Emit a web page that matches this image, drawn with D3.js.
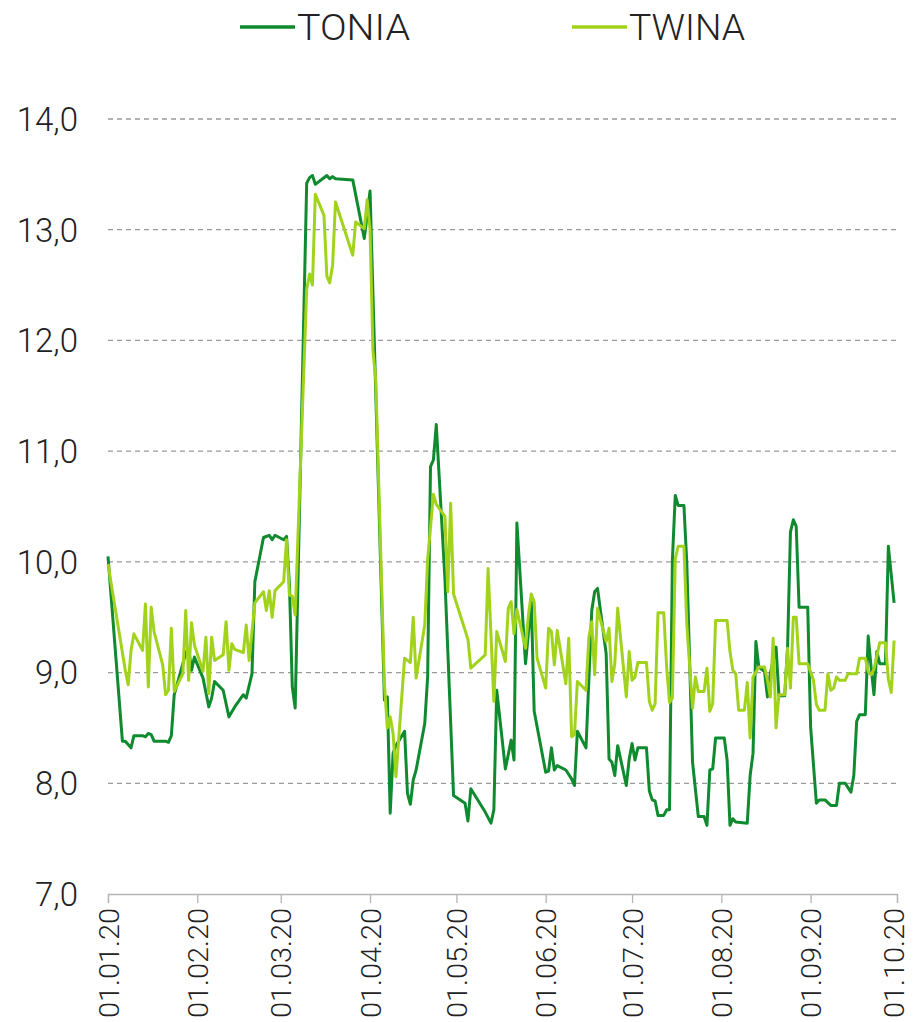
<!DOCTYPE html>
<html>
<head>
<meta charset="utf-8">
<script src="https://cdn.jsdelivr.net/npm/d3@7"></script>
<style>
  html, body { margin: 0; padding: 0; background: #fff; }
  svg { display: block; }
  text { font-family: Roboto, "Open Sans", sans-serif; font-weight: 300; fill: #222; }
</style>
</head>
<body>
<svg id="chart" width="913" height="1022"></svg>
<script>
// Overnight rate series, 2020 (percent)
const tonia = [
  ["01-01",10.05],["01-06",8.38],["01-07",8.38],["01-09",8.32],["01-10",8.43],["01-13",8.43],
  ["01-14",8.42],["01-15",8.45],["01-16",8.44],["01-17",8.38],["01-21",8.38],["01-22",8.37],
  ["01-23",8.43],["01-24",8.80],["01-27",9.08],["01-28",9.18],["01-29",9.22],["01-30",9.02],
  ["01-31",9.14],["02-03",8.95],["02-05",8.69],["02-06",8.77],["02-07",8.92],["02-10",8.84],
  ["02-12",8.60],["02-14",8.69],["02-17",8.80],["02-18",8.77],["02-20",8.99],["02-21",9.82],
  ["02-24",10.22],["02-26",10.24],["02-27",10.20],["02-28",10.24],["03-02",10.20],["03-03",10.23],
  ["03-04",9.80],["03-05",8.87],["03-06",8.68],["03-10",13.42],["03-11",13.47],["03-12",13.49],
  ["03-13",13.41],["03-17",13.49],["03-18",13.46],["03-19",13.48],["03-20",13.46],["03-26",13.45],
  ["03-30",12.92],["04-01",13.35],["04-06",8.75],["04-07",8.78],["04-08",7.73],["04-09",8.27],
  ["04-10",8.34],["04-13",8.47],["04-14",7.91],["04-15",7.81],["04-16",8.03],["04-17",8.12],
  ["04-20",8.54],["04-21",8.96],["04-22",10.86],["04-23",10.92],["04-24",11.24],["04-27",9.85],
  ["04-28",9.20],["04-29",8.55],["04-30",7.89],["05-04",7.82],["05-05",7.66],["05-06",7.95],
  ["05-11",7.74],["05-13",7.64],["05-14",7.76],["05-15",8.84],["05-18",8.13],["05-20",8.39],
  ["05-21",8.21],["05-22",10.35],["05-25",9.08],["05-27",9.64],["05-28",8.65],["06-01",8.10],
  ["06-02",8.11],["06-03",8.32],["06-04",8.12],["06-05",8.16],["06-08",8.12],["06-10",8.04],
  ["06-11",7.98],["06-12",8.47],["06-15",8.32],["06-17",9.56],["06-18",9.73],["06-19",9.76],
  ["06-22",9.17],["06-23",8.22],["06-24",8.19],["06-25",8.07],["06-26",8.34],["06-29",7.98],
  ["06-30",8.22],["07-01",8.36],["07-02",8.21],["07-03",8.32],["07-06",8.32],["07-07",7.93],
  ["07-08",7.85],["07-09",7.84],["07-10",7.71],["07-12",7.71],["07-13",7.76],["07-14",7.76],
  ["07-15",10.02],["07-16",10.60],["07-17",10.51],["07-19",10.51],["07-20",9.99],["07-22",8.19],
  ["07-24",7.70],["07-26",7.70],["07-27",7.62],["07-28",8.12],["07-29",8.13],["07-30",8.41],
  ["08-02",8.41],["08-03",8.21],["08-04",7.62],["08-05",7.68],["08-06",7.65],["08-10",7.64],
  ["08-11",8.07],["08-12",8.27],["08-13",9.28],["08-14",9.05],["08-16",9.01],["08-17",8.78],
  ["08-18",8.99],["08-20",9.23],["08-21",8.79],["08-23",8.79],["08-24",9.23],["08-25",10.27],
  ["08-26",10.38],["08-27",10.32],["08-28",9.59],["08-31",9.59],["09-01",8.51],["09-03",7.82],
  ["09-04",7.85],["09-06",7.85],["09-08",7.80],["09-10",7.80],["09-11",8.00],["09-13",8.00],
  ["09-15",7.92],["09-16",8.07],["09-17",8.56],["09-18",8.62],["09-20",8.62],["09-21",9.33],
  ["09-22",9.05],["09-23",8.80],["09-24",9.19],["09-25",9.08],["09-27",9.08],["09-28",10.14],
  ["09-30",9.63]
];

const twina = [
  ["01-01",9.98],["01-07",9.02],["01-08",8.89],["01-09",9.20],["01-10",9.35],["01-13",9.20],
  ["01-14",9.62],["01-15",8.87],["01-16",9.59],["01-17",9.37],["01-20",9.07],["01-21",8.80],
  ["01-22",8.84],["01-23",9.40],["01-24",8.83],["01-27",8.99],["01-28",9.56],["01-29",8.93],
  ["01-30",9.45],["01-31",9.25],["02-03",9.01],["02-04",9.32],["02-05",8.81],["02-06",9.32],
  ["02-07",9.11],["02-10",9.16],["02-11",9.46],["02-12",9.02],["02-13",9.26],["02-14",9.21],
  ["02-17",9.18],["02-18",9.43],["02-19",9.11],["02-21",9.63],["02-24",9.73],["02-25",9.56],
  ["02-26",9.74],["02-27",9.50],["02-28",9.74],["03-02",9.82],["03-03",10.20],["03-04",9.70],
  ["03-05",9.69],["03-06",9.52],["03-10",12.46],["03-11",12.60],["03-12",12.50],["03-13",13.32],
  ["03-16",13.13],["03-17",12.58],["03-18",12.52],["03-19",12.68],["03-20",13.25],["03-26",12.77],
  ["03-27",13.07],["03-30",13.01],["03-31",13.27],["04-01",13.00],["04-02",11.91],["04-03",11.64],
  ["04-06",8.90],["04-07",8.50],["04-08",8.60],["04-09",8.45],["04-10",8.06],["04-13",9.13],
  ["04-15",9.09],["04-16",9.50],["04-17",8.95],["04-20",9.43],["04-21",10.02],["04-23",10.61],
  ["04-24",10.52],["04-27",10.41],["04-28",9.73],["04-29",10.53],["04-30",9.71],["05-05",9.30],
  ["05-06",9.04],["05-11",9.16],["05-12",9.94],["05-14",8.74],["05-15",9.37],["05-18",9.10],
  ["05-19",9.58],["05-20",9.64],["05-21",9.35],["05-22",9.57],["05-25",9.22],["05-26",9.52],
  ["05-27",9.71],["05-28",9.64],["05-29",9.13],["06-01",8.86],["06-02",9.40],["06-03",9.37],
  ["06-04",9.07],["06-05",9.38],["06-08",8.90],["06-09",9.31],["06-10",8.42],["06-11",8.44],
  ["06-12",8.92],["06-15",8.84],["06-16",9.32],["06-17",9.46],["06-18",8.98],["06-19",9.58],
  ["06-22",9.28],["06-23",9.40],["06-24",8.92],["06-25",9.08],["06-26",9.58],["06-29",8.78],
  ["06-30",9.19],["07-01",8.93],["07-02",8.96],["07-03",9.09],["07-06",9.09],["07-07",8.74],
  ["07-08",8.66],["07-09",8.72],["07-10",9.54],["07-12",9.54],["07-13",9.05],["07-14",8.73],
  ["07-15",8.77],["07-16",10.03],["07-17",10.14],["07-19",10.14],["07-20",9.44],["07-22",8.68],
  ["07-23",8.96],["07-24",8.83],["07-26",8.83],["07-27",9.04],["07-28",8.65],["07-29",8.72],
  ["07-30",9.47],["08-03",9.47],["08-04",9.19],["08-05",9.02],["08-06",8.99],["08-07",8.66],
  ["08-09",8.66],["08-10",8.91],["08-11",8.41],["08-12",8.96],["08-14",9.05],["08-16",9.05],
  ["08-17",8.93],["08-18",8.78],["08-19",9.31],["08-20",8.50],["08-21",8.80],["08-23",8.80],
  ["08-24",9.22],["08-25",8.86],["08-26",9.50],["08-27",9.50],["08-28",9.08],["08-31",9.08],
  ["09-02",8.93],["09-03",8.71],["09-04",8.66],["09-06",8.66],["09-07",8.99],["09-08",8.84],
  ["09-09",8.86],["09-10",8.96],["09-11",8.93],["09-13",8.93],["09-14",8.99],["09-17",8.99],
  ["09-18",9.13],["09-20",9.13],["09-21",9.01],["09-22",8.98],["09-23",9.03],["09-25",9.27],
  ["09-27",9.27],["09-28",8.94],["09-29",8.82],["09-30",9.29]
];

const yTicks = [7, 8, 9, 10, 11, 12, 13, 14];
const xTickDates = ["01-01","02-01","03-01","04-01","05-01","06-01","07-01","08-01","09-01","10-01"];
const seriesNames = ["TONIA", "TWINA"];
const seriesColors = ["#0f8a2e", "#a2d31c"];

const parse = d3.timeParse("%Y-%m-%d");
const toDate = s => parse("2020-" + s);

const svg = d3.select("#chart");

const x = d3.scaleTime()
  .domain([toDate("01-01"), toDate("10-01")])
  .range([108, 897]);
const y = d3.scaleLinear()
  .domain([7, 14])
  .range([894, 119]);

const fmtY = v => d3.format(".1f")(v).replace(".", ",");
const fmtX = d3.timeFormat("%d.%m.%y");

// dashed horizontal gridlines
svg.append("g")
  .selectAll("line")
  .data(yTicks.filter(v => v > 7))
  .join("line")
  .attr("x1", 108).attr("x2", 897)
  .attr("y1", d => y(d)).attr("y2", d => y(d))
  .attr("stroke", "#9a9a9a")
  .attr("stroke-width", 1.3)
  .attr("stroke-dasharray", "5,4");

// y labels
svg.append("g")
  .selectAll("text")
  .data(yTicks)
  .join("text")
  .attr("x", 78)
  .attr("y", d => y(d))
  .attr("dy", "0.36em")
  .attr("text-anchor", "end")
  .attr("font-size", 33)
  .text(d => fmtY(d));

// bottom axis
const xAxis = d3.axisBottom(x)
  .tickValues(xTickDates.map(toDate))
  .tickSize(9)
  .tickFormat(fmtX);
const gx = svg.append("g")
  .attr("transform", `translate(0,${y(7)})`)
  .call(xAxis);
gx.select(".domain").attr("stroke", "#b5b5b5").attr("stroke-width", 1.3);
gx.selectAll(".tick line").attr("stroke", "#b5b5b5").attr("stroke-width", 1.3);
const nTicks = xTickDates.length;
gx.selectAll(".tick text")
  .attr("font-size", 28)
  .attr("font-family", "Roboto, sans-serif")
  .attr("font-weight", 300)
  .attr("fill", "#222")
  .attr("text-anchor", "end")
  .attr("textLength", 110)
  .attr("lengthAdjust", "spacingAndGlyphs")
  .attr("transform", "rotate(-90)")
  .attr("x", -14)
  // keep the last label clear of the right edge
  .attr("y", (d, i) => (i === nTicks - 1 ? -4 : 0))
  .attr("dy", "0.36em");

// series lines
const line = d3.line()
  .x(d => x(toDate(d[0])))
  .y(d => y(d[1]));

[tonia, twina].forEach((series, i) => {
  svg.append("path")
    .datum(series)
    .attr("fill", "none")
    .attr("stroke", seriesColors[i])
    .attr("stroke-width", 3)
    .attr("stroke-linejoin", "round")
    .attr("d", line);
});

// legend
const legendX = [240, 572];
const legend = svg.append("g");
seriesNames.forEach((name, i) => {
  legend.append("line")
    .attr("x1", legendX[i]).attr("x2", legendX[i] + 55)
    .attr("y1", 27).attr("y2", 27)
    .attr("stroke", seriesColors[i])
    .attr("stroke-width", 3.5);
  legend.append("text")
    .attr("x", legendX[i] + 57)
    .attr("y", 40)
    .attr("font-size", 37)
    .attr("textLength", i === 0 ? 113 : 116)
    .attr("lengthAdjust", "spacingAndGlyphs")
    .text(name);
});
</script>
</body>
</html>
